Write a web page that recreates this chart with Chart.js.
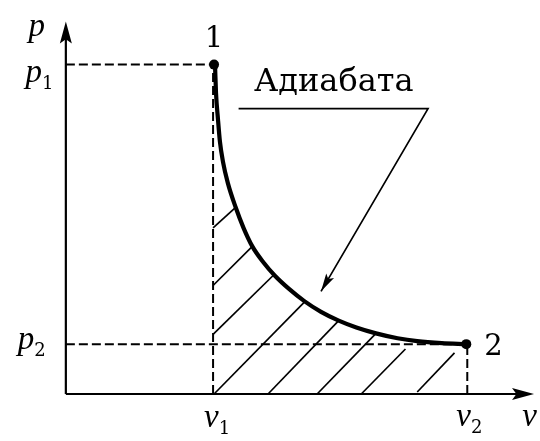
<!DOCTYPE html>
<html>
<head>
<meta charset="utf-8">
<script src="https://cdn.jsdelivr.net/npm/chart.js@4/dist/chart.umd.min.js"></script>
<style>
  html, body { margin: 0; padding: 0; background: #fff; }
  #wrap { width: 540px; height: 441px; }
</style>
</head>
<body>
<div id="wrap"><canvas id="c" width="540" height="441"></canvas></div>
<script>
// adiabat (v, p in arbitrary units)
var curveV = [1.52, 1.53, 1.55, 1.57, 1.60, 1.65, 1.73, 1.81, 1.90, 2.01, 2.13, 2.28, 2.43, 2.60, 2.78, 2.96, 3.16, 3.38, 3.58, 3.83, 4.08];
var curveP = [3.36, 3.08, 2.81, 2.58, 2.38, 2.16, 1.91, 1.70, 1.51, 1.35, 1.21, 1.07, 0.95, 0.84, 0.75, 0.68, 0.62, 0.57, 0.54, 0.52, 0.51];

// states 1 and 2
var stateV = [1.51, 4.08];
var stateP = [3.37, 0.51];
var stateNames = ['1', '2'];

// tick marks on the axes
var pTicks = [3.37, 0.51];
var pTickSubs = ['1', '2'];
var vTicks = [1.50, 4.09];
var vTickSubs = ['1', '2'];

// hatching under the curve (work)
var hatchV0 = [1.50, 1.50, 1.50, 1.51, 2.06, 2.56, 3.01, 3.58];
var hatchP0 = [1.70, 1.11, 0.61, 0.00, 0.00, 0.00, 0.00, 0.02];
var hatchV1 = [1.73, 1.90, 2.12, 2.43, 2.78, 3.16, 3.46, 3.96];
var hatchP1 = [1.91, 1.51, 1.22, 0.94, 0.75, 0.62, 0.46, 0.42];

// callout "Адиабата": underline then leader to the curve
var calloutText = 'Адиабата';
var calloutV = [1.76, 3.69, 2.60];
var calloutP = [2.92, 2.92, 1.05];

var axisTopP = 3.81;
var axisEndV = 4.77;

var SERIF = '"DejaVu Serif", "Liberation Serif", serif';
var ITALIC = 'italic 33px "Liberation Serif", serif';

function pts(xs, ys) {
    return xs.map(function (x, i) { return { x: x, y: ys[i] }; });
}

function line(data, width, dash) {
    return {
        data: data,
        showLine: true,
        borderColor: '#000',
        borderWidth: width,
        borderDash: dash || [],
        pointRadius: 0,
        fill: false
    };
}

var datasets = [];

// axes
datasets.push(line([{ x: 0, y: 0 }, { x: 0, y: axisTopP - 0.15 }], 2.2));
datasets.push(line([{ x: 0, y: 0 }, { x: axisEndV - 0.15, y: 0 }], 2.2));

// dashed guides
datasets.push(line([{ x: 0, y: pTicks[0] }, { x: stateV[0], y: pTicks[0] }], 2, [9, 4]));
datasets.push(line([{ x: 0, y: pTicks[1] }, { x: stateV[1], y: pTicks[1] }], 2, [9, 4]));
datasets.push(line([{ x: vTicks[0], y: 0 }, { x: vTicks[0], y: stateP[0] }], 2, [9, 4]));
datasets.push(line([{ x: vTicks[1], y: 0 }, { x: vTicks[1], y: stateP[1] }], 2, [9, 4]));

// hatching
hatchV0.forEach(function (v, i) {
    datasets.push(line([{ x: v, y: hatchP0[i] }, { x: hatchV1[i], y: hatchP1[i] }], 1.7));
});

// callout leader
datasets.push(line(pts(calloutV, calloutP), 1.7));

// the adiabat itself
var curve = line(pts(curveV, curveP), 4.2);
curve.cubicInterpolationMode = 'monotone';
datasets.push(curve);

// state points
datasets.push({
    data: pts(stateV, stateP),
    showLine: false,
    pointRadius: 5,
    pointBackgroundColor: '#000',
    pointBorderWidth: 0
});

function arrowHead(ctx, tipX, tipY, fromX, fromY, len, half) {
    var a = Math.atan2(tipY - fromY, tipX - fromX);
    ctx.save();
    ctx.translate(tipX, tipY);
    ctx.rotate(a);
    ctx.beginPath();
    ctx.moveTo(0, 0);
    ctx.lineTo(-len, -half);
    ctx.lineTo(-len * 0.8, 0);
    ctx.lineTo(-len, half);
    ctx.closePath();
    ctx.fillStyle = '#000';
    ctx.fill();
    ctx.restore();
}

var decor = {
    id: 'decor',
    afterDatasetsDraw: function (chart) {
        var ctx = chart.ctx,
            xs = chart.scales.x,
            ys = chart.scales.y;

        function X(v) { return xs.getPixelForValue(v); }
        function Y(p) { return ys.getPixelForValue(p); }

        // axis arrows
        arrowHead(ctx, X(0), Y(axisTopP), X(0), Y(0), 22, 6);
        arrowHead(ctx, X(axisEndV), Y(0), X(0), Y(0), 22, 6);

        // callout arrow at the curve end of the leader
        arrowHead(ctx, X(calloutV[2]), Y(calloutP[2]), X(calloutV[1]), Y(calloutP[1]), 18, 4.5);

        ctx.save();
        ctx.fillStyle = '#000';
        ctx.textBaseline = 'alphabetic';

        function text(str, x, y, font, align) {
            ctx.font = font;
            ctx.textAlign = align || 'left';
            ctx.fillText(str, x, y);
        }

        function withSub(letter, sub, x, y) {
            text(letter, x, y, ITALIC);
            var w = ctx.measureText(letter).width;
            text(sub, x + w, y + 7, '18px ' + SERIF);
        }

        // axis names
        text('p', X(-0.38), Y(3.66), ITALIC);
        text('v', X(4.65), Y(-0.33), ITALIC);

        // tick labels
        withSub('p', pTickSubs[0], X(-0.41), Y(pTicks[0]) + 17);
        withSub('p', pTickSubs[1], X(-0.49), Y(pTicks[1]) + 5);
        withSub('v', vTickSubs[0], X(vTicks[0]) - 9, Y(-0.34));
        withSub('v', vTickSubs[1], X(vTicks[1]) - 11, Y(-0.33));

        // state numbers
        text(stateNames[0], X(stateV[0]), Y(stateP[0]) - 18, '29px ' + SERIF, 'center');
        text(stateNames[1], X(stateV[1]) + 18, Y(stateP[1]) + 11, '29px ' + SERIF, 'left');

        // callout label
        text(calloutText, X(2.73), Y(3.10), '32px ' + SERIF, 'center');

        ctx.restore();
    }
};

new Chart(document.getElementById('c'), {
    type: 'scatter',
    data: { datasets: datasets },
    options: {
        responsive: false,
        devicePixelRatio: 1,
        animation: false,
        layout: { padding: 0 },
        scales: {
            x: { type: 'linear', min: -0.62, max: 4.78, display: false },
            y: { type: 'linear', min: -0.43, max: 3.98, display: false }
        },
        plugins: {
            legend: { display: false },
            tooltip: { enabled: false }
        }
    },
    plugins: [decor]
});
</script>
</body>
</html>
